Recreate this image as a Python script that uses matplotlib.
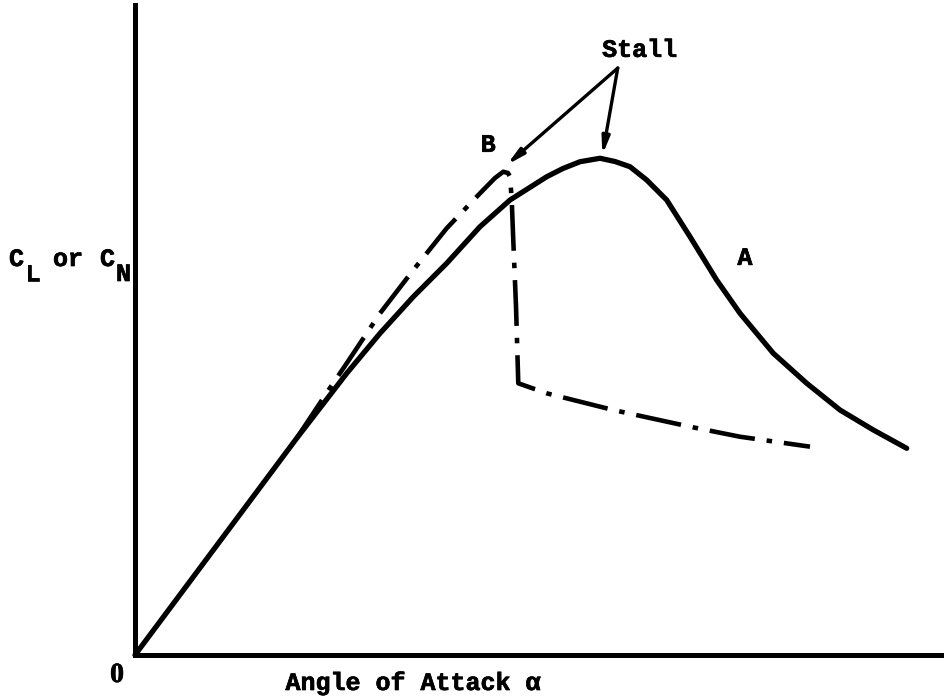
import numpy as np
import matplotlib
matplotlib.use("Agg")
import matplotlib.pyplot as plt
import matplotlib.patheffects as pe

plt.rcParams['font.family'] = ['Liberation Mono', 'DejaVu Sans']
plt.rcParams['font.weight'] = 'bold'

# curve A: gradual stall (solid)
alpha_a = [0.0, 19.96, 26.14, 30.25, 34.36, 38.48, 42.59, 46.30, 50.83, 52.84,
           54.94, 57.41, 59.26, 61.11, 63.17, 65.64, 68.52, 71.81, 74.69,
           78.80, 82.93, 87.04, 91.15, 95.27]
cl_a = [0.0, 33.34, 43.34, 49.49, 55.12, 60.26, 65.89, 70.00, 73.58, 74.85,
        75.89, 76.42, 75.92, 75.12, 73.08, 70.00, 64.35, 57.69, 52.57,
        46.42, 41.80, 37.69, 34.62, 31.80]

# curve B: abrupt stall (dash-dot)
alpha_b = [19.96, 24.07, 26.14, 30.25, 34.36, 38.48, 42.59, 44.44, 45.47,
           46.05, 46.30, 46.51, 46.70, 47.04, 47.32, 50.83, 59.05, 68.52,
           74.69, 83.33]
cl_b = [33.34, 41.08, 44.88, 52.57, 59.23, 65.65, 71.03, 73.38, 74.35,
        74.15, 73.58, 70.00, 63.85, 53.58, 41.80, 40.26, 37.69, 35.12,
        33.58, 32.05]

# stall arrows: common tail and two heads
stall_tail = (59.6, 90.3)
stall_heads = [(45.9, 75.4), (57.7, 76.9)]

W, H = 945, 700
fig = plt.figure(figsize=(W / 100, H / 100), dpi=100)
ax = fig.add_axes([135 / W, 45 / H, (W - 135) / W, 650 / H])
ax.set_xlim(0, 100)
ax.set_ylim(0, 100)
ax.set_xticks([])
ax.set_yticks([])
for side in ['top', 'right']:
    ax.spines[side].set_visible(False)
for side in ['left', 'bottom']:
    ax.spines[side].set_linewidth(3.6)
    ax.spines[side].set_color('black')

ax.plot(alpha_a, cl_a, color='black', lw=3.8, solid_capstyle='round',
        solid_joinstyle='round', clip_on=False)
ax.plot(alpha_b, cl_b, color='black', lw=3.3, linestyle=(0, (10, 2.6, 1.2, 2.6)),
        dash_capstyle='butt', dash_joinstyle='round', clip_on=False)

for head in stall_heads:
    ax.annotate('', xy=head, xytext=stall_tail,
                arrowprops=dict(arrowstyle='-|>,head_length=1.0,head_width=0.22',
                                color='black', lw=2.4, shrinkA=0, shrinkB=0))

# slightly heavier typewriter look
bold = [pe.withStroke(linewidth=0.5, foreground='black')]
txt = dict(fontsize=18, path_effects=bold)

ax.text(62.3, 93.1, 'Stall', ha='center', va='center', **txt)
ax.text(43.6, 78.5, 'B', ha='center', va='center', **txt)
ax.text(75.3, 61.1, 'A', ha='center', va='center', **txt)

# y label with full-size lowered subscripts
ylab = [('C', 9, 266), ('L', 25, 281), ('or', 53, 266), ('C', 100, 266), ('N', 116, 281)]
for s, px, py in ylab:
    fig.text(px / W, 1 - py / H, s, ha='left', va='baseline', **txt)

fig.text(117 / W, 1 - 682 / H, '0', ha='center', va='baseline',
         family='Liberation Serif', fontsize=20, path_effects=bold)
fig.text(413 / W, 1 - 683 / H, 'Angle of Attack α', ha='center', va='center', **txt)

fig.savefig('out.png', dpi=100)
